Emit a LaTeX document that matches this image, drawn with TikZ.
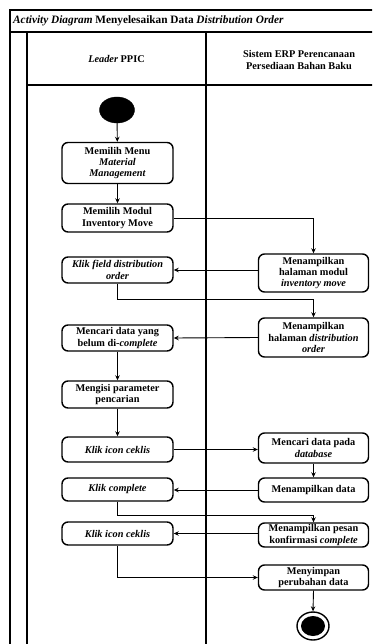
\documentclass[tikz,border=0pt]{standalone}
\usepackage{fontspec}
\setmainfont{Liberation Serif}
\usetikzlibrary{arrows.meta,shapes.geometric}
\tikzset{
  actbox/.style={draw, rounded corners=6pt, line width=1.4pt, minimum width=111pt,
    align=center, inner sep=1pt,
    font=\bfseries\fontsize{10.3}{11.4}\selectfont},
  frameline/.style={line width=1.7pt},
  arr/.style={line width=0.9pt, -{Stealth[length=5pt,width=4.5pt]}},
  conn/.style={line width=0.9pt}
}
\begin{document}
\begin{tikzpicture}[x=1pt,y=-1pt]
\useasboundingbox (0,0) rectangle (372,644);
\clip (0,0) rectangle (372,644);
\fill[white] (0,0) rectangle (372,644);
% frame
\draw[frameline] (10,660) -- (10,10) -- (400,10);
\draw[frameline] (10,32) -- (400,32);
\draw[frameline] (27,32) -- (27,660);
\draw[frameline] (206,32) -- (206,660);
\draw[frameline] (27,85) -- (400,85);
\draw[frameline] (392,10) -- (392,660);
% title and headers
\node[anchor=west, inner sep=0pt, font=\bfseries\fontsize{11.3}{12}\selectfont] (title) at (13,21)
  {\textit{Activity Diagram} Menyelesaikan Data \textit{Distribution Order}};
\node[align=center, font=\bfseries\fontsize{10.3}{11}\selectfont] (h1) at (116.5,59) {\textit{Leader} PPIC};
\node[align=center, font=\bfseries\fontsize{10.3}{12}\selectfont] (h2) at (299,60) {Sistem ERP Perencanaan\\Persediaan Bahan Baku};
% start
\node[ellipse, fill=black, draw=black, minimum width=35pt, minimum height=26pt, inner sep=0pt] (start) at (117,110) {};
% left lane
\node[actbox, minimum height=41pt] (L1) at (117.5,163) {Memilih Menu\\\textit{Material}\\\textit{Management}};
\node[actbox, minimum height=28pt] (L2) at (117.5,218) {Memilih Modul\\Inventory Move};
\node[actbox, minimum height=26pt] (L3) at (117.5,270) {\textit{Klik field distribution}\\\textit{order}};
\node[actbox, minimum height=26pt] (L4) at (117.5,338) {Mencari data yang\\belum di-\textit{complete}};
\node[actbox, minimum height=27pt] (L5) at (117.5,394.5) {Mengisi parameter\\pencarian};
\node[actbox, minimum height=25pt] (L6) at (117.5,449.5) {\textit{Klik icon ceklis}};
\node[actbox, minimum height=23pt] (L7) at (117.5,489.5) {\textit{Klik complete}};
\node[actbox, minimum height=23pt] (L8) at (117.5,533.5) {\textit{Klik icon ceklis}};
% right lane
\node[actbox, minimum width=110pt, minimum height=38pt] (R1) at (313.5,273) {Menampilkan\\halaman modul\\\textit{inventory move}};
\node[actbox, minimum width=110pt, minimum height=39pt] (R2) at (313.5,337.5) {Menampilkan\\halaman \textit{distribution}\\\textit{order}};
\node[actbox, minimum width=110pt, minimum height=30pt] (R3) at (313.5,448) {Mencari data pada\\\textit{database}};
\node[actbox, minimum width=110pt, minimum height=24pt] (R4) at (313.5,490) {Menampilkan data};
\node[actbox, minimum width=110pt, minimum height=24pt] (R5) at (313.5,535) {Menampilkan pesan\\konfirmasi \textit{complete}};
\node[actbox, minimum width=110pt, minimum height=25pt] (R6) at (313.5,577.5) {Menyimpan\\perubahan data};
% end
\node[ellipse, draw=black, line width=1.4pt, minimum width=32pt, minimum height=28pt, inner sep=0pt] (end) at (313,626) {};
\node[ellipse, fill=black, minimum width=24pt, minimum height=20pt, inner sep=0pt] (endin) at (end.center) {};
% connectors
\draw[arr] (start) -- (L1);
\draw[arr] (L1) -- (L2);
\draw[arr] (L2.east) -| (R1.north);
\draw[arr] (R1.west |- L3.east) -- (L3.east);
\draw[arr] (L3.south) -- ++(0,16) -| (R2.north);
\draw[arr] (R2.west) -- (L4.east);
\draw[arr] (L4) -- (L5);
\draw[arr] (L5) -- (L6);
\draw[arr] (L6.east) -- (R3.west |- L6.east);
\draw[arr] (R3) -- (R4);
\draw[arr] (R4.west) -- (L7.east |- R4.west);
\draw[arr] (L7.south) -- ++(0,14) -| (R5.north);
\draw[arr] (R5.west |- L8.east) -- (L8.east);
\draw[arr] (L8.south) |- (R6.west);
\draw[arr] (R6.south) -- (end.north);
\end{tikzpicture}
\end{document}
